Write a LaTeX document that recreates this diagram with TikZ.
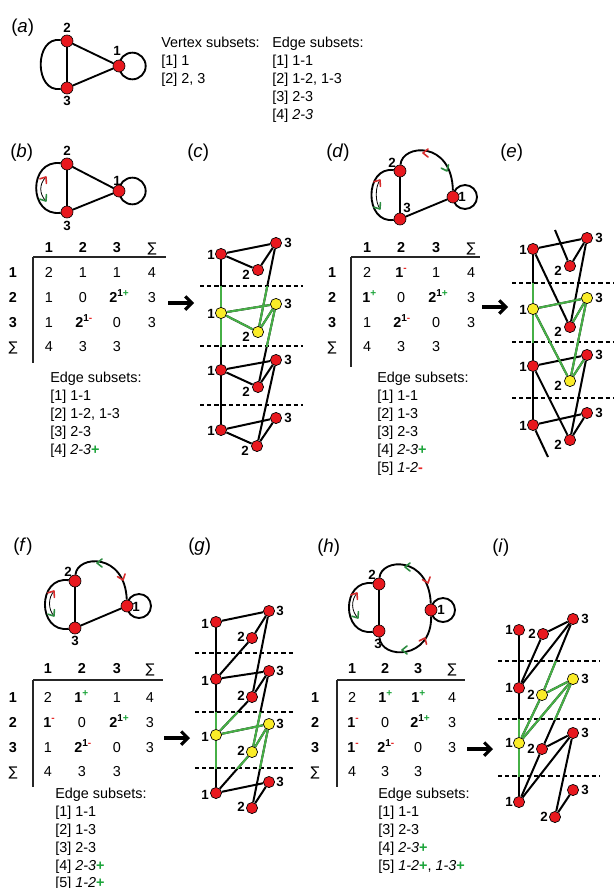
\documentclass[tikz,border=0pt]{standalone}
\usepackage{fontspec}
\setmainfont{Liberation Sans}
\newfontfamily\dejavu{DejaVu Sans}
\usetikzlibrary{calc,arrows.meta}
\pgfdeclarelayer{bg}
\pgfdeclarelayer{paper}
\pgfsetlayers{paper,bg,main}
\definecolor{nred}{RGB}{232,24,30}
\definecolor{nyel}{RGB}{250,236,40}
\definecolor{egreen}{RGB}{70,175,70}
\definecolor{pgreen}{RGB}{30,165,60}
\definecolor{mred}{RGB}{232,40,40}
\definecolor{cred}{RGB}{215,45,45}
\definecolor{cgreen}{RGB}{45,140,65}
\newcommand\txtfont{\fontsize{10.8}{13}\selectfont}
\newcommand\upP{\textsuperscript{\textcolor{pgreen}{+}}}
\newcommand\upM{\textsuperscript{\textcolor{mred}{-}}}
\newcommand\upOP{\textsuperscript{1\textcolor{pgreen}{+}}}
\newcommand\upOM{\textsuperscript{1\textcolor{mred}{-}}}
\newcommand\gpl{\textcolor{pgreen}{\textbf{+}}}
\newcommand\rmn{\textcolor{mred}{\textbf{-}}}
\newcommand\sumsym{{\dejavu\fontsize{10}{12}\selectfont ∑}}
\newcommand\vtx[5]{\node[vnode,fill=#2] (#1) at (#3) {}; \node[lab] (#1l) at ($(#1)+(#4)$) {#5};}
\newcommand\chev[3]{\draw[chevst,#3,shift={(#1)},rotate=#2] (-5,-4) -- (0,0) -- (-5,4);}
\begin{document}
\begin{tikzpicture}[x=0.75pt,y=-0.75pt,
  vnode/.style={circle,draw=black,line width=0.5pt,minimum size=8.4pt,inner sep=0pt},
  snode/.style={circle,draw=black,line width=0.5pt,fill=nred,minimum size=9pt,inner sep=0pt},
  lab/.style={font=\bfseries\fontsize{10}{12}\selectfont,inner sep=0pt},
  ledge/.style={line width=1.5pt,black},
  gedge/.style={line width=1.5pt,egreen},
  sedge/.style={line width=1.4pt,black},
  dline/.style={dash pattern=on 3.2pt off 2.2pt,line width=1.1pt},
  txt/.style={font=\txtfont,anchor=base west,inner sep=0pt},
  tc/.style={font=\txtfont,anchor=base,inner sep=0pt},
  tb/.style={font=\txtfont\bfseries,anchor=base,inner sep=0pt},
  tsup/.style={font=\txtfont\bfseries,anchor=base west,inner sep=0pt},
  tline/.style={line width=0.8pt,black!85},
  plab/.style={font=\fontsize{14}{16}\selectfont,anchor=west,inner sep=0pt},
  bigarrow/.style={line width=2.3pt,-{Straight Barb[length=5pt,width=10pt]}},
  chevst/.style={line width=1.2pt,line cap=round,line join=round},
  thinarc/.style={line width=0.6pt}
]
\begin{pgfonlayer}{paper}
\fill[white] (0,0) rectangle (614,888);
\end{pgfonlayer}
\useasboundingbox (0,0) rectangle (614,888);

% ---------------- (a)
\node[plab] (la) at (11,28) {(\textit{a})};
\node[snode] (a2) at (67,41) {}; \node[lab] (a2l) at (67,28) {2};
\node[snode] (a3) at (67,88) {}; \node[lab] (a3l) at (67,101) {3};
\node[snode] (a1) at (119,66) {}; \node[lab] (a1l) at (117,51) {1};
\begin{pgfonlayer}{bg}
\draw[sedge] (a2) -- (a3); \draw[sedge] (a2) -- (a1); \draw[sedge] (a3) -- (a1);
\draw[sedge] (a2) .. controls (34,36) and (34,93) .. (a3);
\draw[sedge] (a1.center) arc[start angle=180,delta angle=360,radius=10pt];
\end{pgfonlayer}
\node[txt] (va) at (161,48) {Vertex subsets:};
\node[txt] (v1) at (161,66) {[1] 1};
\node[txt] (v2) at (161,84) {[2] 2, 3};
\node[txt] (ea) at (272,48) {Edge subsets:};
\node[txt] (ea1) at (272,66) {[1] 1-1};
\node[txt] (ea2) at (272,84) {[2] 1-2, 1-3};
\node[txt] (ea3) at (272,102) {[3] 2-3};
\node[txt] (ea4) at (272,120) {[4] \textit{2-3}};

% ---------------- (b)
\node[plab] (lb) at (10,153) {(\textit{b})};
\node[snode] (b2) at (67,164) {}; \node[lab] (b2l) at (67,151) {2};
\node[snode] (b3) at (67,212) {}; \node[lab] (b3l) at (67,226) {3};
\node[snode] (b1) at (119,191) {}; \node[lab] (b1l) at (117,181) {1};
\begin{pgfonlayer}{bg}
\draw[sedge] (b2) -- (b3); \draw[sedge] (b2) -- (b1); \draw[sedge] (b3) -- (b1);
\draw[sedge] (b2) .. controls (28,159) and (28,217) .. (b3);
\draw[sedge] (b1.center) arc[start angle=180,delta angle=360,radius=10pt];
\end{pgfonlayer}
\draw[thinarc] (46,177) .. controls (39,184) and (39,194) .. (46,201);
\chev{46,177}{55}{cred}
\chev{46,201}{-55}{cgreen}
% table b
\node[tb] at (49,252) {1}; \node[tb] at (83,252) {2}; \node[tb] at (117,252) {3}; \node[tc] at (152,252) {\sumsym};
\draw[tline] (33,257) -- (166,257); \draw[tline] (33,257) -- (33,363);
\node[tb] at (13,277) {1}; \node[tb] at (13,302) {2}; \node[tb] at (13,327) {3}; \node[tc] at (13,351) {\sumsym};
\node[tc] at (49,277) {2}; \node[tc] at (83,277) {1}; \node[tc] at (117,277) {1}; \node[tc] at (152,277) {4};
\node[tc] at (49,302) {1}; \node[tc] at (83,302) {0}; \node[tsup] at (109,302) {2\upOP}; \node[tc] at (152,302) {3};
\node[tc] at (49,327) {1}; \node[tsup] at (75,327) {2\upOM}; \node[tc] at (117,327) {0}; \node[tc] at (152,327) {3};
\node[tc] at (49,351) {4}; \node[tc] at (83,351) {3}; \node[tc] at (117,351) {3};
\node[txt] at (50,382) {Edge subsets:};
\node[txt] at (50,400) {[1] 1-1};
\node[txt] at (50,418) {[2] 1-2, 1-3};
\node[txt] at (50,436) {[3] 2-3};
\node[txt] at (50,454) {[4] \textit{2-3}\gpl};
\coordinate (abs) at (168,303); \coordinate (abe) at (194,303);
\draw[bigarrow] (abs) -- (abe);

% ---------------- (c)
\node[plab] (lc) at (187,153) {(\textit{c})};
\vtx{cA1}{nred}{221,254}{-10,1}{1}
\vtx{cA3}{nred}{276,243}{12,0}{3}
\vtx{cA2}{nred}{258,270}{-12,5}{2}
\vtx{cB1}{nyel}{221,313}{-10,1}{1}
\vtx{cB3}{nyel}{276,304}{12,0}{3}
\vtx{cB2}{nyel}{258,332}{-12,5}{2}
\vtx{cC1}{nred}{221,370}{-10,1}{1}
\vtx{cC3}{nred}{276,360}{12,0}{3}
\vtx{cC2}{nred}{258,387}{-12,5}{2}
\vtx{cD1}{nred}{221,430}{-10,1}{1}
\vtx{cD3}{nred}{276,418}{12,0}{3}
\vtx{cD2}{nred}{257,446}{-12,5}{2}
\begin{pgfonlayer}{bg}
\draw[dline] (200,286) -- (303,286); \draw[dline] (200,346) -- (303,346); \draw[dline] (200,405) -- (303,405);
\foreach \a/\b in {cA1/cB1,cB1/cC1,cC1/cD1,cA1/cA3,cA1/cA2,cA2/cA3,cA3/cB2,cB1/cB3,cB1/cB2,cB2/cB3,cB3/cC2,cC1/cC3,cC1/cC2,cC2/cC3,cC3/cD2,cD1/cD3,cD1/cD2,cD2/cD3} \draw[ledge] (\a) -- (\b);
\begin{scope}
\clip (195,286) rectangle (310,346);
\foreach \a/\b in {cA1/cB1,cB1/cC1,cA3/cB2,cB1/cB3,cB1/cB2,cB2/cB3,cB3/cC2} \draw[gedge] (\a) -- (\b);
\end{scope}
\end{pgfonlayer}

% ---------------- (d)
\node[plab] (ld) at (326,153) {(\textit{d})};
\node[snode] (d2) at (400,171) {}; \node[lab] (d2l) at (392,163) {2};
\node[snode] (d3) at (400,219) {}; \node[lab] (d3l) at (407,208) {3};
\node[snode] (d1) at (453,197) {}; \node[lab] (d1l) at (462,197) {1};
\begin{pgfonlayer}{bg}
\draw[sedge] (d2) -- (d3); \draw[sedge] (d3) -- (d1);
\draw[sedge] (d2) .. controls (364,166) and (364,224) .. (d3);
\draw[sedge] (d2) .. controls (402,144) and (452,140) .. (d1);
\draw[sedge] (d1.center) arc[start angle=180,delta angle=360,radius=9pt];
\end{pgfonlayer}
\draw[thinarc] (380,180) .. controls (375,187) and (375,202) .. (380,209);
\chev{380,180}{55}{cred}
\chev{380,209}{-55}{cgreen}
\chev{423,153}{180}{cred}
\chev{447,171}{-65}{cgreen}
\node[tb] at (367,252) {1}; \node[tb] at (401,252) {2}; \node[tb] at (436,252) {3}; \node[tc] at (471,252) {\sumsym};
\draw[tline] (351,257) -- (480,257); \draw[tline] (351,257) -- (351,367);
\node[tb] at (332,277) {1}; \node[tb] at (332,302) {2}; \node[tb] at (332,327) {3}; \node[tc] at (332,351) {\sumsym};
\node[tc] at (367,277) {2}; \node[tsup] at (395,277) {1\upM}; \node[tc] at (436,277) {1}; \node[tc] at (471,277) {4};
\node[tsup] at (362,302) {1\upP}; \node[tc] at (401,302) {0}; \node[tsup] at (428,302) {2\upOP}; \node[tc] at (471,302) {3};
\node[tc] at (367,327) {1}; \node[tsup] at (393,327) {2\upOM}; \node[tc] at (436,327) {0}; \node[tc] at (471,327) {3};
\node[tc] at (367,351) {4}; \node[tc] at (401,351) {3}; \node[tc] at (436,351) {3};
\node[txt] at (377,382) {Edge subsets:};
\node[txt] at (377,400) {[1] 1-1};
\node[txt] at (377,418) {[2] 1-3};
\node[txt] at (377,436) {[3] 2-3};
\node[txt] at (377,454) {[4] \textit{2-3}\gpl};
\node[txt] at (377,472) {[5] \textit{1-2}\rmn};
\coordinate (ads) at (482,307); \coordinate (ade) at (508,307);
\draw[bigarrow] (ads) -- (ade);

% ---------------- (e)
\node[plab] (le) at (500,153) {(\textit{e})};
\vtx{eA1}{nred}{533,249}{-10,1}{1}
\vtx{eA3}{nred}{587,238}{12,0}{3}
\vtx{eA2}{nred}{570,266}{-12,5}{2}
\vtx{eB1}{nyel}{533,309}{-10,1}{1}
\vtx{eB3}{nyel}{587,298}{12,0}{3}
\vtx{eB2}{nred}{570,327}{-12,5}{2}
\vtx{eC1}{nred}{533,366}{-10,1}{1}
\vtx{eC3}{nred}{587,355}{12,0}{3}
\vtx{eC2}{nyel}{570,381}{-12,5}{2}
\vtx{eD1}{nred}{533,425}{-10,1}{1}
\vtx{eD3}{nred}{587,413}{12,0}{3}
\vtx{eD2}{nred}{570,440}{-12,5}{2}
\coordinate (eS1) at (555,230); \coordinate (eS2) at (548,457);
\begin{pgfonlayer}{bg}
\draw[dline] (512,283) -- (614,283); \draw[dline] (512,342) -- (614,342); \draw[dline] (512,398) -- (614,398);
\foreach \a/\b in {eA1/eB1,eB1/eC1,eC1/eD1,eA1/eA3,eB1/eB3,eC1/eC3,eD1/eD3,eA2/eA3,eA2/eS1,eA1/eB2,eA3/eB2,eB3/eB2,eB1/eC2,eB3/eC2,eC3/eC2,eC1/eD2,eC3/eD2,eD3/eD2,eD1/eS2} \draw[ledge] (\a) -- (\b);
\begin{scope}
\clip (505,283) rectangle (614,342);
\foreach \a/\b in {eA1/eB1,eB1/eC1,eB1/eB3,eB3/eB2,eB1/eC2,eB3/eC2} \draw[gedge] (\a) -- (\b);
\end{scope}
\begin{scope}
\clip (505,342) rectangle (614,398);
\foreach \a/\b in {eB1/eC2,eB3/eC2,eC3/eC2} \draw[gedge] (\a) -- (\b);
\end{scope}
\end{pgfonlayer}

% ---------------- (f)
\node[plab] (lf) at (13,547) {(\textit{f})};
\node[snode] (f2) at (75,581) {}; \node[lab] (f2l) at (68,572) {2};
\node[snode] (f3) at (75,628) {}; \node[lab] (f3l) at (75,641) {3};
\node[snode] (f1) at (127,606) {}; \node[lab] (f1l) at (136,607) {1};
\begin{pgfonlayer}{bg}
\draw[sedge] (f2) -- (f3); \draw[sedge] (f3) -- (f1);
\draw[sedge] (f2) .. controls (37,576) and (37,633) .. (f3);
\draw[sedge] (f2) .. controls (77,555) and (125,552) .. (f1);
\draw[sedge] (f1.center) arc[start angle=180,delta angle=360,radius=9pt];
\end{pgfonlayer}
\draw[thinarc] (54,591) .. controls (48,598) and (48,609) .. (54,616);
\chev{54,591}{55}{cred}
\chev{54,616}{-55}{cgreen}
\chev{97,563}{180}{cgreen}
\chev{123,580}{-70}{cred}
\node[tb] at (48,673) {1}; \node[tb] at (82,673) {2}; \node[tb] at (117,673) {3}; \node[tc] at (150,673) {\sumsym};
\draw[tline] (33,680) -- (163,680); \draw[tline] (33,680) -- (33,787);
\node[tb] at (13,702) {1}; \node[tb] at (13,727) {2}; \node[tb] at (13,752) {3}; \node[tc] at (13,776) {\sumsym};
\node[tc] at (48,702) {2}; \node[tsup] at (74,702) {1\upP}; \node[tc] at (117,702) {1}; \node[tc] at (150,702) {4};
\node[tsup] at (43,727) {1\upM}; \node[tc] at (82,727) {0}; \node[tsup] at (109,727) {2\upOP}; \node[tc] at (150,727) {3};
\node[tc] at (48,752) {1}; \node[tsup] at (74,752) {2\upOM}; \node[tc] at (117,752) {0}; \node[tc] at (150,752) {3};
\node[tc] at (48,776) {4}; \node[tc] at (82,776) {3}; \node[tc] at (117,776) {3};
\node[txt] at (55,798) {Edge subsets:};
\node[txt] at (55,816) {[1] 1-1};
\node[txt] at (55,834) {[2] 1-3};
\node[txt] at (55,852) {[3] 2-3};
\node[txt] at (55,870) {[4] \textit{2-3}\gpl};
\node[txt] at (55,887) {[5] \textit{1-2}\gpl};
\coordinate (afs) at (164,738); \coordinate (afe) at (190,738);
\draw[bigarrow] (afs) -- (afe);

% ---------------- (g)
\node[plab] (lg) at (188,547) {(\textit{g})};
\vtx{gA1}{nred}{216,622}{-11,2}{1}
\vtx{gA3}{nred}{269,611}{11,0}{3}
\vtx{gA2}{nred}{252,638}{-11,-1}{2}
\vtx{gB1}{nred}{216,679}{-11,2}{1}
\vtx{gB3}{nred}{269,671}{11,0}{3}
\vtx{gB2}{nred}{252,697}{-11,-1}{2}
\vtx{gC1}{nyel}{216,735}{-11,2}{1}
\vtx{gC3}{nyel}{269,724}{11,0}{3}
\vtx{gC2}{nyel}{252,752}{-11,-1}{2}
\vtx{gD1}{nred}{216,793}{-11,2}{1}
\vtx{gD3}{nred}{269,782}{11,0}{3}
\vtx{gD2}{nred}{252,808}{-11,-1}{2}
\begin{pgfonlayer}{bg}
\draw[dline] (195,653) -- (295,653); \draw[dline] (195,712) -- (295,712); \draw[dline] (195,768) -- (295,768);
\foreach \a/\b in {gA1/gB1,gB1/gC1,gC1/gD1,gA1/gA3,gB1/gB3,gC1/gC3,gD1/gD3,gA2/gA3,gB2/gB3,gC2/gC3,gD2/gD3,gA3/gB2,gB3/gC2,gC3/gD2,gA2/gB1,gB2/gC1,gC2/gD1} \draw[ledge] (\a) -- (\b);
\begin{scope}
\clip (190,712) rectangle (300,768);
\foreach \a/\b in {gB1/gC1,gC1/gD1,gC1/gC3,gC2/gC3,gB3/gC2,gC3/gD2,gB2/gC1,gC2/gD1} \draw[gedge] (\a) -- (\b);
\end{scope}
\end{pgfonlayer}

% ---------------- (h)
\node[plab] (lh) at (317,548) {(\textit{h})};
\node[snode] (h2) at (379,584) {}; \node[lab] (h2l) at (372,575) {2};
\node[snode] (h3) at (379,631) {}; \node[lab] (h3l) at (378,644) {3};
\node[snode] (h1) at (431,610) {}; \node[lab] (h1l) at (441,610) {1};
\begin{pgfonlayer}{bg}
\draw[sedge] (h2) -- (h3);
\draw[sedge] (h2) .. controls (341,579) and (341,636) .. (h3);
\draw[sedge] (h2) .. controls (381,558) and (429,555) .. (h1);
\draw[sedge] (h3) .. controls (381,660) and (432,660) .. (h1);
\draw[sedge] (h1.center) arc[start angle=180,delta angle=360,radius=9pt];
\end{pgfonlayer}
\draw[thinarc] (357,593) .. controls (351,600) and (351,611) .. (358,618);
\chev{357,593}{55}{cred}
\chev{358,618}{-55}{cgreen}
\chev{405,567}{180}{cgreen}
\chev{428,583}{-70}{cred}
\chev{402,650}{180}{cgreen}
\chev{425,638}{65}{cred}
\node[tb] at (352,673) {1}; \node[tb] at (385,673) {2}; \node[tb] at (418,673) {3}; \node[tc] at (452,673) {\sumsym};
\draw[tline] (337,680) -- (465,680); \draw[tline] (337,680) -- (337,787);
\node[tb] at (315,702) {1}; \node[tb] at (315,727) {2}; \node[tb] at (315,752) {3}; \node[tc] at (315,776) {\sumsym};
\node[tc] at (352,702) {2}; \node[tsup] at (378,702) {1\upP}; \node[tsup] at (411,702) {1\upP}; \node[tc] at (452,702) {4};
\node[tsup] at (347,727) {1\upM}; \node[tc] at (385,727) {0}; \node[tsup] at (410,727) {2\upOP}; \node[tc] at (452,727) {3};
\node[tsup] at (347,752) {1\upM}; \node[tsup] at (377,752) {2\upOM}; \node[tc] at (418,752) {0}; \node[tc] at (452,752) {3};
\node[tc] at (352,776) {4}; \node[tc] at (385,776) {3}; \node[tc] at (418,776) {3};
\node[txt] at (378,798) {Edge subsets:};
\node[txt] at (378,816) {[1] 1-1};
\node[txt] at (378,834) {[3] 2-3};
\node[txt] at (378,852) {[4] \textit{2-3}\gpl};
\node[txt] at (378,870) {[5] \textit{1-2}\gpl, \textit{1-3}\gpl};
\coordinate (ahs) at (467,749); \coordinate (ahe) at (493,749);
\draw[bigarrow] (ahs) -- (ahe);

% ---------------- (i)
\node[plab] (li) at (492,548) {(\textit{i})};
\vtx{iA1}{nred}{519,630}{-10,0}{1}
\vtx{iA2}{nred}{543,634}{-11,0}{2}
\vtx{iA3}{nred}{573,619}{12,0}{3}
\vtx{iB1}{nred}{519,688}{-10,0}{1}
\vtx{iB2}{nyel}{542,695}{-11,0}{2}
\vtx{iB3}{nyel}{573,679}{12,0}{3}
\vtx{iC1}{nyel}{519,743}{-10,0}{1}
\vtx{iC2}{nred}{542,749}{-11,0}{2}
\vtx{iC3}{nred}{573,733}{12,0}{3}
\vtx{iD1}{nred}{519,802}{-10,0}{1}
\vtx{iD2}{nred}{555,817}{-11,0}{2}
\vtx{iD3}{nred}{573,790}{12,0}{3}
\begin{pgfonlayer}{bg}
\draw[dline] (498,661) -- (599,661); \draw[dline] (498,719) -- (599,719); \draw[dline] (498,776) -- (599,776);
\foreach \a/\b in {iA1/iB1,iB1/iC1,iC1/iD1,iA2/iA3,iB2/iB3,iC2/iC3,iD2/iD3,iA3/iB2,iB3/iC2,iC3/iD2,iA2/iB1,iB2/iC1,iC2/iD1,iA3/iB1,iB3/iC1,iC3/iD1} \draw[ledge] (\a) -- (\b);
\begin{scope}
\clip (495,661) rectangle (605,719);
\foreach \a/\b in {iA3/iB2,iB2/iB3,iB3/iC2,iB2/iC1,iB3/iC1} \draw[gedge] (\a) -- (\b);
\end{scope}
\begin{scope}
\clip (495,719) rectangle (605,776);
\foreach \a/\b in {iB1/iC1,iC1/iD1,iB2/iC1,iB3/iC1} \draw[gedge] (\a) -- (\b);
\end{scope}
\end{pgfonlayer}
\end{tikzpicture}
\end{document}
